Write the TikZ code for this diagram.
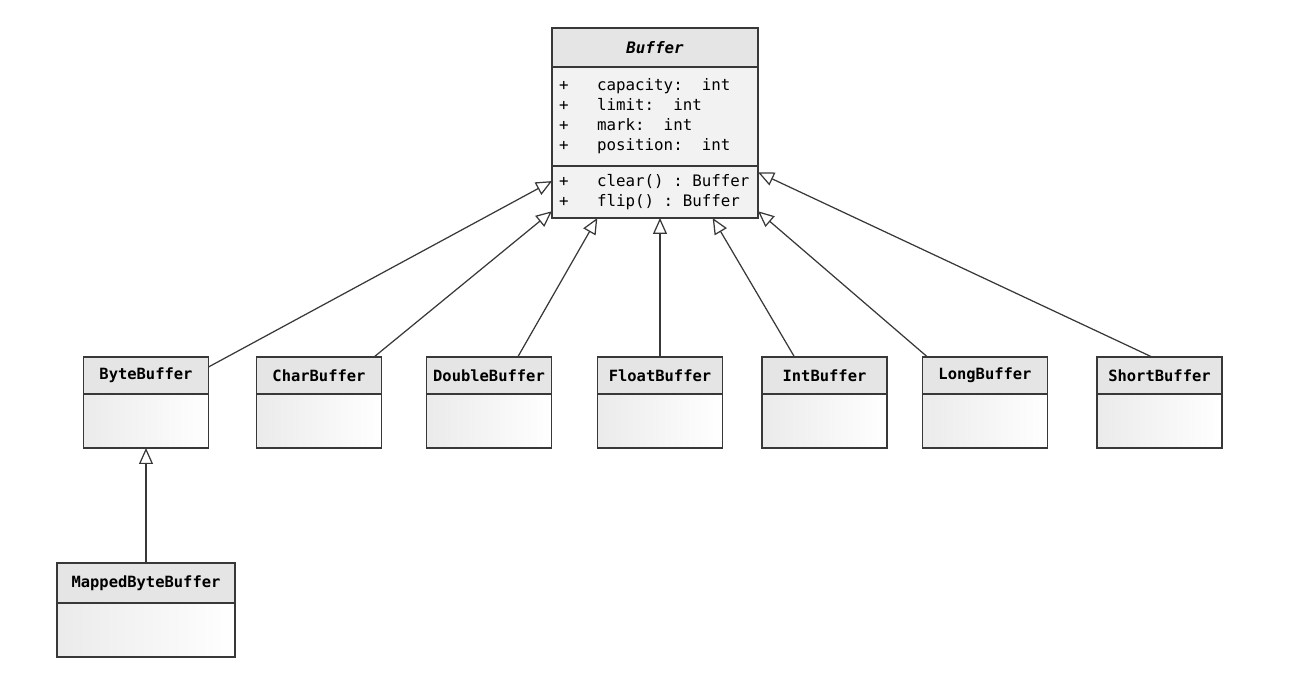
\documentclass[tikz,border=0pt]{standalone}
\usepackage{fontspec}
\setmonofont{DejaVu Sans Mono}[
  ItalicFont={DejaVu Sans Mono Oblique},
  BoldItalicFont={DejaVu Sans Mono Bold Oblique}]
\usepackage{xcolor}
\usetikzlibrary{arrows.meta,positioning,calc}
\definecolor{umlline}{gray}{0.22}
\definecolor{umlfill}{gray}{0.90}
\definecolor{umlbody}{gray}{0.95}
% n fixed-width blanks in the mono font
\newcommand{\msp}[1]{\hspace*{#1\fontcharwd\font`0}}

\begin{document}
\begin{tikzpicture}[x=0.02cm,y=-0.02cm,
    cls/.style={rectangle,draw=umlline,line width=0.9pt,outer sep=0pt,
                inner sep=0pt,minimum width=2.5cm,minimum height=0.74cm,
                fill=umlfill,font=\fontsize{8.8}{10}\selectfont\ttfamily\bfseries},
    clsbody/.style={rectangle,draw=umlline,line width=0.9pt,outer sep=0pt,
                inner sep=0pt,minimum width=2.5cm,minimum height=1.08cm,
                left color=gray!16,right color=white},
    members/.style={rectangle,draw=umlline,line width=0.9pt,outer sep=0pt,
                inner xsep=0.14cm,inner ysep=0pt,text width=3.84cm,align=left,
                fill=umlbody,font=\fontsize{9}{11.4}\selectfont\ttfamily},
    gen/.style={draw=umlline,line width=0.7pt,
                -{Triangle[open,length=0.32cm,width=0.28cm]}}
  ]
  \useasboundingbox[fill=white] (0,0) rectangle (1289,677);

  % abstract base class
  \node[cls,minimum width=4.12cm,minimum height=0.78cm,
        font=\fontsize{9}{10}\selectfont\ttfamily\bfseries\itshape] (buffer) at (655,47.5) {Buffer};
  \node[members,below=0pt of buffer,minimum height=1.98cm] (bufferattr) {
    +\msp{3}capacity:\msp{2}int\\
    +\msp{3}limit:\msp{2}int\\
    +\msp{3}mark:\msp{2}int\\
    +\msp{3}position:\msp{2}int
  };
  \node[members,below=0pt of bufferattr,minimum height=1.04cm] (bufferops) {
    +\msp{3}clear()\msp{1}:\msp{1}Buffer\\
    +\msp{3}flip()\msp{1}:\msp{1}Buffer
  };

  % subclasses
  \node[cls] (byte) at (146,375.5) {ByteBuffer};
  \node[clsbody,below=0pt of byte] (bytebody) {};
  \node[cls] (char) at (319,375.5) {CharBuffer};
  \node[clsbody,below=0pt of char] (charbody) {};
  \node[cls] (double) at (489,375.5) {DoubleBuffer};
  \node[clsbody,below=0pt of double] (doublebody) {};
  \node[cls] (float) at (660,375.5) {FloatBuffer};
  \node[clsbody,below=0pt of float] (floatbody) {};
  \node[cls] (int) at (824.5,375.5) {IntBuffer};
  \node[clsbody,below=0pt of int] (intbody) {};
  \node[cls] (long) at (985,375.5) {LongBuffer};
  \node[clsbody,below=0pt of long] (longbody) {};
  \node[cls] (short) at (1159.5,375.5) {ShortBuffer};
  \node[clsbody,below=0pt of short] (shortbody) {};

  \node[cls,minimum width=3.56cm,minimum height=0.8cm] (mapped) at (146,583) {MappedByteBuffer};
  \node[clsbody,below=0pt of mapped,minimum width=3.56cm] (mappedbody) {};

  % generalisations
  \draw[gen] ($(byte.north east)!0.27!(byte.south east)$)
          -- ($(bufferops.north west)!0.29!(bufferops.south west)$);
  \draw[gen] ($(char.north west)!0.94!(char.north east)$)
          -- ($(bufferops.north west)!0.87!(bufferops.south west)$);
  \draw[gen] ($(double.north west)!0.73!(double.north east)$)
          -- ($(bufferops.south west)!0.22!(bufferops.south east)$);
  \draw[gen] (float.north) -- (float.north |- bufferops.south);
  \draw[gen] ($(int.north west)!0.26!(int.north east)$)
          -- ($(bufferops.south west)!0.78!(bufferops.south east)$);
  \draw[gen] ($(long.north west)!0.04!(long.north east)$)
          -- ($(bufferops.north east)!0.87!(bufferops.south east)$);
  \draw[gen] ($(short.north west)!0.44!(short.north east)$)
          -- ($(bufferops.north east)!0.12!(bufferops.south east)$);
  \draw[gen] (mapped) -- (bytebody);
\end{tikzpicture}
\end{document}
